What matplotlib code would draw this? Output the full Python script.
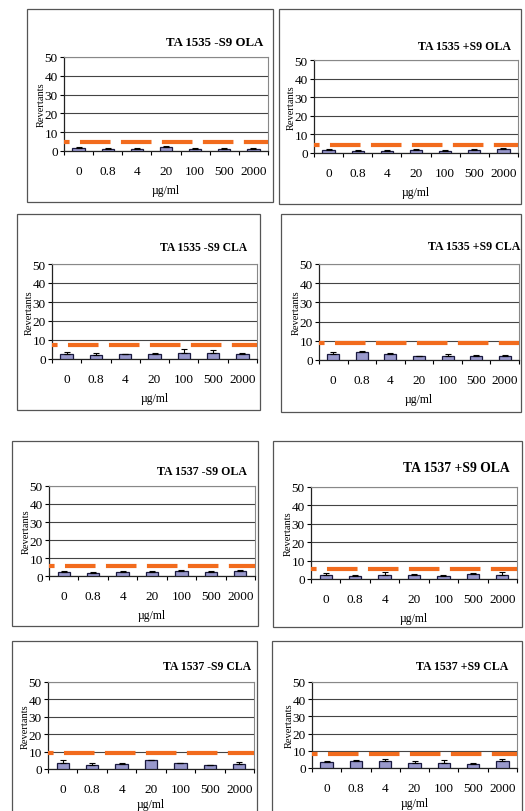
import matplotlib
matplotlib.use("Agg")
import matplotlib.pyplot as plt
from matplotlib.patches import Rectangle

plt.rcParams['font.family'] = ['Liberation Serif', 'DejaVu Serif']
plt.rcParams['lines.scale_dashes'] = False

W, H = 525, 812

doses = ["0", "0.8", "4", "20", "100", "500", "2000"]

titles = ["TA 1535 -S9 OLA", "TA 1535 +S9 OLA",
          "TA 1535 -S9 CLA", "TA 1535 +S9 CLA",
          "TA 1537 -S9 OLA", "TA 1537 +S9 OLA",
          "TA 1537 -S9 CLA", "TA 1537 +S9 CLA"]

# mean revertants per dose
m1535_ola_m = [1.8, 1.3, 1.3, 2.3, 1.3, 1.3, 1.3]
m1535_ola_p = [1.8, 1.3, 1.3, 1.6, 1.3, 1.8, 2.2]
m1535_cla_m = [2.6, 2.3, 2.4, 2.6, 3.3, 3.4, 2.8]
m1535_cla_p = [2.9, 4.0, 3.3, 1.9, 2.2, 2.2, 2.2]
m1537_ola_m = [2.5, 1.8, 2.5, 2.5, 2.9, 2.5, 2.9]
m1537_ola_p = [2.4, 1.4, 2.2, 2.1, 1.4, 2.8, 2.4]
m1537_cla_m = [3.4, 2.5, 2.8, 4.9, 3.3, 2.2, 3.0]
m1537_cla_p = [3.3, 3.9, 3.9, 2.7, 3.1, 2.4, 3.9]

# upper error (SD)
e1535_ola_m = [0.4, 0.3, 0.3, 0.4, 0.3, 0.3, 0.3]
e1535_ola_p = [0.4, 0.3, 0.4, 0.4, 0.3, 0.2, 0.6]
e1535_cla_m = [1.2, 1.0, 0.3, 0.3, 2.0, 1.1, 0.3]
e1535_cla_p = [1.4, 0.8, 0.5, 0.2, 0.7, 0.6, 0.6]
e1537_ola_m = [0.3, 0.3, 0.3, 0.3, 0.3, 0.3, 0.3]
e1537_ola_p = [0.8, 0.6, 1.4, 0.7, 0.8, 0.7, 1.2]
e1537_cla_m = [1.7, 0.9, 0.8, 0.4, 0.0, 0.0, 0.8]
e1537_cla_p = [0.8, 0.6, 1.6, 1.2, 1.4, 0.5, 1.2]

# spontaneous threshold (dashed line)
thresholds = [4.6, 4.5, 7.5, 8.6, 5.8, 5.5, 9.1, 8.0]

means = [m1535_ola_m, m1535_ola_p, m1535_cla_m, m1535_cla_p,
         m1537_ola_m, m1537_ola_p, m1537_cla_m, m1537_cla_p]
errs = [e1535_ola_m, e1535_ola_p, e1535_cla_m, e1535_cla_p,
        e1537_ola_m, e1537_ola_p, e1537_cla_m, e1537_cla_p]

# layout in pixels: frame box (x0, y0, x1, y1), axes box, title centre
frames = [(27, 10, 273, 203), (279, 10, 521, 205),
          (17, 215, 260, 411), (281, 215, 521, 413),
          (12, 442, 258, 627), (273, 442, 522, 628),
          (12, 642, 257, 818), (272, 642, 522, 818)]
axboxes = [(64, 58, 268, 152), (314, 61, 518, 154),
           (52, 265, 257, 360), (319, 265, 519, 361),
           (49, 487, 255, 577), (311, 488, 517, 580),
           (48, 683, 254, 770), (312, 683, 517, 769)]
title_pos = [(215, 43), (464, 47), (204, 248), (474, 247),
             (202, 472), (456, 469), (207, 667), (462, 667)]
title_size = [9.3, 8.6, 8.4, 8.6, 8.6, 9.8, 8.5, 8.6]
xlabel_pad = [5, 5, 5, 5, 5, 5, 2.5, 2.5]

bar_color = "#9999cc"
orange = "#f26b1d"

fig = plt.figure(figsize=(W / 100, H / 100), dpi=100)


def fx(x):
    return x / W


def fy(y):
    return 1 - y / H


for i in range(8):
    x0, y0, x1, y1 = frames[i]
    fig.patches.append(Rectangle((fx(x0), fy(y1)), fx(x1 - x0), (y1 - y0) / H,
                                 transform=fig.transFigure, fill=False,
                                 edgecolor="#555555", lw=0.9))

    a0, b0, a1, b1 = axboxes[i]
    ax = fig.add_axes([fx(a0), fy(b1), fx(a1 - a0), (b1 - b0) / H])
    xs = list(range(len(doses)))
    ax.bar(xs, means[i], width=0.42, color=bar_color, edgecolor="#1a1a40",
           linewidth=0.9, zorder=3)
    ax.errorbar(xs, means[i], yerr=[[0] * len(doses), errs[i]], fmt="none",
                ecolor="black", elinewidth=0.8, capsize=2.2, capthick=0.8,
                zorder=4)
    ax.plot([-0.5, 6.5], [thresholds[i]] * 2, color=orange, lw=3,
            ls=(18, (22, 7.5)), solid_capstyle="butt", zorder=5)

    ax.set_xlim(-0.5, 6.5)
    ax.set_ylim(0, 50)
    ax.set_yticks([0, 10, 20, 30, 40, 50])
    ax.yaxis.grid(True, color="#444444", lw=0.8)
    ax.set_axisbelow(True)
    ax.set_xticks(xs)
    ax.set_xticklabels(doses)
    ax.set_xticks([k + 0.5 for k in range(-1, 7)], minor=True)
    ax.tick_params(axis="x", which="major", length=0, pad=10, labelsize=9.5)
    ax.tick_params(axis="x", which="minor", length=3, direction="out",
                   width=0.8)
    ax.tick_params(axis="y", length=3, width=0.8, pad=1.5, labelsize=9.5)
    for s in ["top", "right"]:
        ax.spines[s].set_color("#888888")
        ax.spines[s].set_linewidth(0.8)
    for s in ["left", "bottom"]:
        ax.spines[s].set_color("#222222")
        ax.spines[s].set_linewidth(0.9)
    ax.set_ylabel("Revertants", fontsize=7.5, labelpad=-1)
    ax.set_xlabel("\u00b5g/ml", fontsize=8.5, labelpad=xlabel_pad[i])

    tx, ty = title_pos[i]
    fig.text(fx(tx), fy(ty), titles[i], ha="center", va="center",
             fontsize=title_size[i], fontweight="bold")

fig.savefig("out.png", dpi=100)
